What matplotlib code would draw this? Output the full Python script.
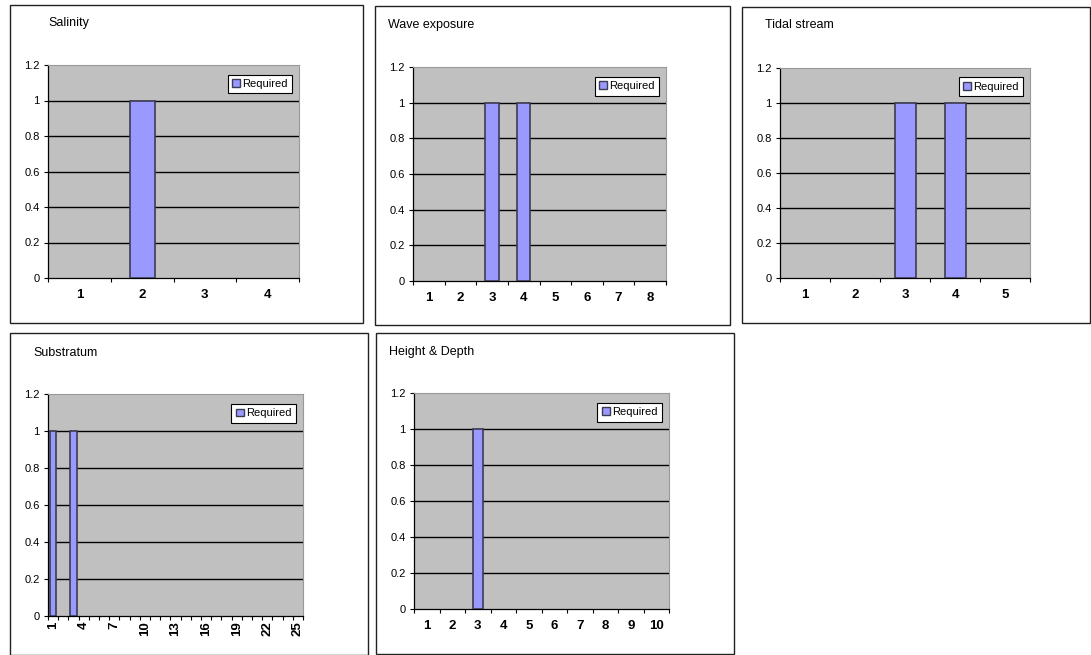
import matplotlib
matplotlib.use("Agg")
import matplotlib.pyplot as plt
from matplotlib.patches import Rectangle
import numpy as np

plt.rcParams['font.family'] = ['Liberation Sans', 'DejaVu Sans']

# Data
sal_cats = [1, 2, 3, 4]
sal_vals = [0, 1, 0, 0]
wave_cats = [1, 2, 3, 4, 5, 6, 7, 8]
wave_vals = [0, 0, 1, 1, 0, 0, 0, 0]
tidal_cats = [1, 2, 3, 4, 5]
tidal_vals = [0, 0, 1, 1, 0]
sub_cats = list(range(1, 26))
sub_vals = [1, 0, 1] + [0] * 22
hd_cats = [1, 2, 3, 4, 5, 6, 7, 8, 9, 10]
hd_vals = [0, 0, 1, 0, 0, 0, 0, 0, 0, 0]
y_ticks = [0, 0.2, 0.4, 0.6, 0.8, 1, 1.2]
y_ticklabels = ['0', '0.2', '0.4', '0.6', '0.8', '1', '1.2']

W, H = 1091, 655
fig = plt.figure(figsize=(W / 100, H / 100), dpi=100)

def fx(x):
    return x / W

def fy(y):
    return 1 - y / H

panels = [
    dict(title='Salinity', cats=sal_cats, vals=sal_vals, box=(10, 5, 363, 323),
         plot=(48, 65, 299, 278), tpos=(48, 23), width=0.4, step=1, rot=0),
    dict(title='Wave exposure', cats=wave_cats, vals=wave_vals, box=(375, 6, 730, 325),
         plot=(413, 67, 666, 281), tpos=(388, 25), width=0.42, step=1, rot=0),
    dict(title='Tidal stream', cats=tidal_cats, vals=tidal_vals, box=(742, 7, 1090, 323),
         plot=(780, 68, 1030, 278), tpos=(765, 25), width=0.42, step=1, rot=0),
    dict(title='Substratum', cats=sub_cats, vals=sub_vals, box=(10, 333, 368, 655),
         plot=(48, 394, 303, 616), tpos=(33, 353), width=0.6, step=3, rot=90),
    dict(title='Height & Depth', cats=hd_cats, vals=hd_vals, box=(376, 333, 734, 654),
         plot=(414, 393, 669, 609), tpos=(389, 352), width=0.38, step=1, rot=0),
]

for p in panels:
    bx0, by0, bx1, by1 = p['box']
    fig.patches.append(Rectangle((fx(bx0), fy(by1)), fx(bx1 - bx0), (by1 - by0) / H,
                                 transform=fig.transFigure, fill=False,
                                 edgecolor='#222222', linewidth=1.0))
    fig.text(fx(p['tpos'][0]), fy(p['tpos'][1]), p['title'], fontsize=9,
             ha='left', va='center', color='black')
    px0, py0, px1, py1 = p['plot']
    ax = fig.add_axes([fx(px0), fy(py1), fx(px1 - px0), (py1 - py0) / H])
    ax.set_facecolor('#C0C0C0')
    n = len(p['cats'])
    x = np.arange(1, n + 1)
    lws = [1.2 if v else 0 for v in p['vals']]
    ax.bar(x, p['vals'], width=p['width'], color='#9999FF', edgecolor='#3C3C50',
           linewidth=lws, label='Required', zorder=3)
    ax.set_xlim(0.5, n + 0.5)
    ax.set_ylim(0, 1.2)
    ax.set_yticks(y_ticks)
    ax.set_yticklabels(y_ticklabels, fontsize=8)
    for yv in y_ticks[1:-1]:
        ax.axhline(yv, color='black', linewidth=1.0, zorder=2)
    # category boundaries as major ticks
    ax.set_xticks(np.arange(0.5, n + 1, 1))
    ax.set_xticklabels([])
    ax.set_xticks(x[::p['step']], minor=True)
    ax.set_xticklabels([str(c) for c in p['cats']][::p['step']], minor=True,
                       fontsize=9.5, fontweight='bold', rotation=p['rot'])
    ax.tick_params(axis='x', which='major', direction='out', length=3, width=0.8)
    ax.tick_params(axis='x', which='minor', length=0, pad=8 if p['rot'] == 0 else 4)
    ax.tick_params(axis='y', direction='out', length=3, width=0.8, pad=3)
    for s in ['top', 'right']:
        ax.spines[s].set_color('#999999')
        ax.spines[s].set_linewidth(0.8)
    for s in ['left', 'bottom']:
        ax.spines[s].set_color('black')
        ax.spines[s].set_linewidth(0.9)
    from matplotlib.patches import Patch
    handle = Patch(facecolor='#9999FF', edgecolor='#3C3C50', linewidth=1.0)
    leg = ax.legend([handle], ['Required'], loc='upper right',
                    bbox_to_anchor=(0.972, 0.955), fontsize=8,
                    frameon=True, fancybox=False, framealpha=1, edgecolor='black',
                    handlelength=0.7, handleheight=0.7, handletextpad=0.2,
                    borderpad=0.4, borderaxespad=0)
    leg.get_frame().set_linewidth(0.8)

fig.savefig('out.png', dpi=100, facecolor='white')
